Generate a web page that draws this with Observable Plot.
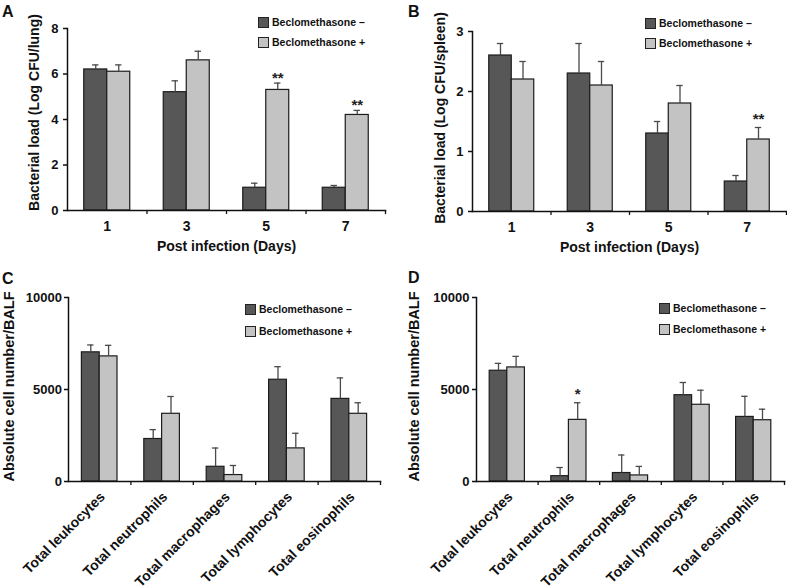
<!DOCTYPE html>
<html>
<head>
<meta charset="utf-8">
<script src="https://cdn.jsdelivr.net/npm/d3@7"></script>
<script src="https://cdn.jsdelivr.net/npm/@observablehq/plot@0.6"></script>
<style>
  body { margin: 0; background: #fff; }
  #fig { position: relative; width: 787px; height: 588px; overflow: hidden; font-family: "Liberation Sans", Arial, sans-serif; color: #111; }
  .p { position: absolute; }
  .p svg { background: transparent !important; overflow: visible; }
  .letter { position: absolute; font-weight: bold; font-size: 16px; line-height: 1; }
  .legend { position: absolute; font-weight: bold; font-size: 10.5px; line-height: 1; }
  .legend .row { display: flex; align-items: center; height: 11px; }
  .legend .sw { display: inline-block; width: 11px; height: 11px; border: 1px solid #222; box-sizing: border-box; margin-right: 3px; }
</style>
</head>
<body>
<div id="fig"></div>
<script>
// ---------- data ----------
const DAYS = ["1", "3", "5", "7"];
const lungMinus = [6.2, 5.2, 1.0, 1.0];
const lungMinusSd = [0.2, 0.5, 0.2, 0.1];
const lungPlus = [6.1, 6.6, 5.3, 4.2];
const lungPlusSd = [0.3, 0.4, 0.3, 0.2];
const lungSig = ["", "", "**", "**"];
const lungTicks = [0, 2, 4, 6, 8];

const spleenMinus = [2.6, 2.3, 1.3, 0.5];
const spleenMinusSd = [0.2, 0.5, 0.2, 0.1];
const spleenPlus = [2.2, 2.1, 1.8, 1.2];
const spleenPlusSd = [0.3, 0.4, 0.3, 0.2];
const spleenSig = ["", "", "", "**"];
const spleenTicks = [0, 1, 2, 3];

const CELLS = ["Total leukocytes", "Total neutrophils", "Total macrophages", "Total lymphocytes", "Total eosinophils"];
const cMinus = [7020, 2310, 800, 5530, 4490];
const cMinusSd = [400, 510, 1020, 710, 1140];
const cPlus = [6800, 3680, 350, 1800, 3680];
const cPlusSd = [600, 940, 520, 820, 600];
const cSig = ["", "", "", "", ""];

const dMinus = [6020, 290, 460, 4690, 3510];
const dMinusSd = [400, 470, 980, 690, 1120];
const dPlus = [6200, 3350, 330, 4170, 3330];
const dPlusSd = [600, 930, 490, 790, 600];
const dSig = ["", "*", "", "", ""];
const cellTicks = [0, 5000, 10000];

const LEGEND = ["Beclomethasone \u2013", "Beclomethasone +"];
const LETTERS = ["A", "B", "C", "D"];
const X_TITLE = "Post infection (Days)";
const Y_TITLES = ["Bacterial load (Log CFU/lung)", "Bacterial load (Log CFU/spleen)", "Absolute cell number/BALF", "Absolute cell number/BALF"];

// ---------- style ----------
const FONT = "'Liberation Sans', Arial, sans-serif";
const DARK = "#575757", LIGHT = "#c3c3c3", EDGE = "#1c1c1c", ERR = "#4a4a4a", AXIS = "#111";

const fig = document.getElementById("fig");

function panel(o) {
  const rows = o.cats.map((c, i) => ({
    cat: c,
    m: o.minus[i], mt: o.minus[i] + o.minusSd[i],
    p: o.plus[i], pt: o.plus[i] + o.plusSd[i],
    sig: o.sig[i]
  }));
  const iw = o.width - o.ml - o.mr;
  const ph = o.height - o.mt - o.mb;
  const bw = iw / o.cats.length, half = bw / 2, w = o.barW, cap = 3.2;
  const xLabels = o.rotate
    ? Plot.text(rows, {x: "cat", text: "cat", frameAnchor: "bottom", rotate: -45, textAnchor: "end", lineAnchor: "middle", dx: 3, dy: 13, fontSize: 14, fontWeight: "bold", fill: AXIS})
    : Plot.axisX({tickSize: 0, tickPadding: 11, fontSize: 14, fontWeight: "bold", label: null});
  const svg = Plot.plot({
    width: o.width, height: o.height,
    marginLeft: o.ml, marginRight: o.mr, marginTop: o.mt, marginBottom: o.mb,
    style: {fontFamily: FONT, fontWeight: "bold", background: "transparent", color: AXIS, overflow: "visible"},
    x: {type: "band", domain: o.cats, paddingInner: 0, paddingOuter: 0, round: false, axis: o.rotate ? null : undefined, label: null},
    y: {domain: o.yDomain, label: null},
    marks: [
      Plot.barY(rows, {x: "cat", y: "m", fill: DARK, stroke: EDGE, strokeWidth: 1.2, insetLeft: half - w, insetRight: half}),
      Plot.barY(rows, {x: "cat", y: "p", fill: LIGHT, stroke: EDGE, strokeWidth: 1.2, insetLeft: half, insetRight: half - w}),
      Plot.ruleX(rows, {x: "cat", y1: "m", y2: "mt", dx: -w / 2, stroke: ERR, strokeWidth: 1.3}),
      Plot.ruleX(rows, {x: "cat", y1: "p", y2: "pt", dx: w / 2, stroke: ERR, strokeWidth: 1.3}),
      Plot.tickY(rows, {x: "cat", y: "mt", insetLeft: half - w / 2 - cap, insetRight: half + w / 2 - cap, stroke: ERR, strokeWidth: 1.3}),
      Plot.tickY(rows, {x: "cat", y: "pt", insetLeft: half + w / 2 - cap, insetRight: half - w / 2 - cap, stroke: ERR, strokeWidth: 1.3}),
      Plot.text(rows, {x: "cat", y: "pt", text: "sig", dx: w / 2, dy: o.starDy, fontSize: 15, fontWeight: "bold", lineAnchor: "middle", fill: "#222"}),
      Plot.frame({anchor: "left", stroke: AXIS, strokeWidth: 1.5}),
      Plot.frame({anchor: "bottom", stroke: AXIS, strokeWidth: 1.5}),
      Plot.ruleX(rows, {x: "cat", dx: half, insetTop: ph, insetBottom: -4, stroke: AXIS, strokeWidth: 1.3}),
      Plot.axisY({ticks: o.yTicks, tickSize: 4, tickPadding: o.tickPad, tickFormat: d => String(d), fontSize: 13, fontWeight: "bold", label: null, strokeWidth: 1.5}),
      xLabels,
      Plot.text([o.yTitle], {frameAnchor: "left", rotate: -90, textAnchor: "middle", lineAnchor: "middle", dx: o.yTitleDx, dy: o.yTitleDy, fontSize: o.yTitleSize, fontWeight: "bold", fill: AXIS}),
      o.xTitle ? Plot.text([o.xTitle], {frameAnchor: "bottom", textAnchor: "middle", lineAnchor: "middle", dy: 36, fontSize: 14, fontWeight: "bold", fill: AXIS}) : null
    ].filter(Boolean)
  });
  const holder = document.createElement("div");
  holder.className = "p";
  holder.style.left = o.left + "px";
  holder.style.top = o.top + "px";
  holder.appendChild(svg);
  fig.appendChild(holder);
}

function legend(left, top, gap) {
  const div = document.createElement("div");
  div.className = "legend";
  div.style.left = left + "px";
  div.style.top = top + "px";
  LEGEND.forEach((t, i) => {
    const row = document.createElement("div");
    row.className = "row";
    if (i > 0) row.style.marginTop = gap + "px";
    const sw = document.createElement("span");
    sw.className = "sw";
    sw.style.background = i === 0 ? DARK : LIGHT;
    row.appendChild(sw);
    row.appendChild(document.createTextNode(t));
    div.appendChild(row);
  });
  fig.appendChild(div);
}

function letter(txt, left, top) {
  const d = document.createElement("div");
  d.className = "letter";
  d.style.left = left + "px";
  d.style.top = top + "px";
  d.textContent = txt;
  fig.appendChild(d);
}

try {
  panel({left: 0, top: 0, width: 393, height: 262, ml: 67, mr: 8, mt: 28, mb: 52,
    cats: DAYS, minus: lungMinus, minusSd: lungMinusSd, plus: lungPlus, plusSd: lungPlusSd, sig: lungSig,
    yDomain: [0, 8], yTicks: lungTicks, tickPad: 5, barW: 23, starDy: -5,
    yTitle: Y_TITLES[0], yTitleDx: -33, yTitleDy: -7, yTitleSize: 14, xTitle: X_TITLE, rotate: false});
  panel({left: 393, top: 0, width: 394, height: 262, ml: 79, mr: 1, mt: 31, mb: 51,
    cats: DAYS, minus: spleenMinus, minusSd: spleenMinusSd, plus: spleenPlus, plusSd: spleenPlusSd, sig: spleenSig,
    yDomain: [0, 3], yTicks: spleenTicks, tickPad: 5, barW: 22.5, starDy: -8,
    yTitle: Y_TITLES[1], yTitleDx: -32, yTitleDy: -3.5, yTitleSize: 14, xTitle: X_TITLE, rotate: false});
  panel({left: 0, top: 284, width: 393, height: 304, ml: 68, mr: 13, mt: 13, mb: 107,
    cats: CELLS, minus: cMinus, minusSd: cMinusSd, plus: cPlus, plusSd: cPlusSd, sig: cSig,
    yDomain: [0, 10000], yTicks: cellTicks, tickPad: 2.5, barW: 17.8, starDy: -9,
    yTitle: Y_TITLES[2], yTitleDx: -59, yTitleDy: -3, yTitleSize: 14.5, xTitle: null, rotate: true});
  panel({left: 393, top: 284, width: 394, height: 304, ml: 83, mr: 3, mt: 13, mb: 107,
    cats: CELLS, minus: dMinus, minusSd: dMinusSd, plus: dPlus, plusSd: dPlusSd, sig: dSig,
    yDomain: [0, 10000], yTicks: cellTicks, tickPad: 3, barW: 17.6, starDy: -9,
    yTitle: Y_TITLES[3], yTitleDx: -62, yTitleDy: -3, yTitleSize: 14.5, xTitle: null, rotate: true});

  legend(258, 17, 9);
  legend(645, 18, 9);
  legend(245, 304, 11);
  legend(659, 303, 10);

  letter(LETTERS[0], 2, 4);
  letter(LETTERS[1], 408, 4);
  letter(LETTERS[2], 2, 271);
  letter(LETTERS[3], 408, 270);
} catch (e) {
  const pre = document.createElement("pre");
  pre.textContent = e.stack || String(e);
  document.body.appendChild(pre);
}
</script>
</body>
</html>
